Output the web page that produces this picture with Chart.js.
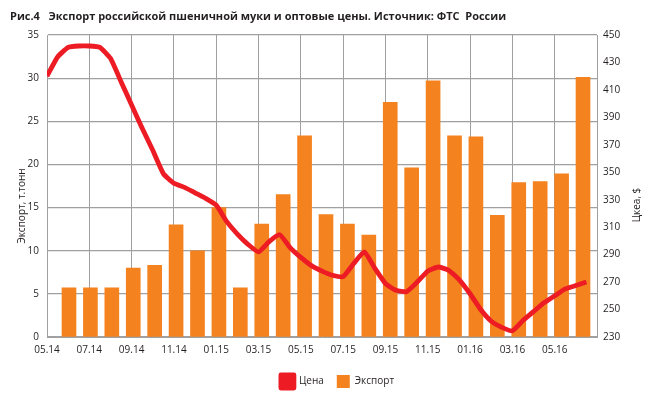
<!DOCTYPE html>
<html>
<head>
<meta charset="utf-8">
<script src="https://cdn.jsdelivr.net/npm/chart.js@4.4.0/dist/chart.umd.min.js"></script>
<style>
  body { margin: 0; background: #fff; }
  #wrap { width: 649px; height: 398px; }
</style>
</head>
<body>
<div id="wrap"><canvas id="myChart" width="649" height="398"></canvas></div>
<script>
// x tick labels, every 2 months from 05.14
const monthTicks = ['05.14', '07.14', '09.14', '11.14', '01.15', '03.15', '05.15', '07.15', '09.15', '11.15', '01.16', '03.16', '05.16'];

// export, thousand tonnes, monthly 05.14 .. 05.16
const exportMonths = ['05.14', '06.14', '07.14', '08.14', '09.14', '10.14', '11.14', '12.14', '01.15', '02.15', '03.15', '04.15',
  '05.15', '06.15', '07.15', '08.15', '09.15', '10.15', '11.15', '12.15', '01.16', '02.16', '03.16', '04.16', '05.16'];
const exportVals = [5.7, 5.7, 5.7, 8.0, 8.3, 13.0, 10.0, 15.0, 5.7, 13.1, 16.5, 23.3, 14.2, 13.1, 11.8, 27.2, 19.6, 29.7,
  23.3, 23.2, 14.1, 17.9, 18.0, 18.9, 30.1];

// wholesale price, $, read every half month starting 05.14
const priceVals = [420, 434, 441, 442, 442, 441, 433, 416, 399, 382, 366, 349, 342, 339, 335, 331, 326, 314, 305, 297.5,
  292, 299.5, 304.5, 295, 288, 282, 278, 275, 274, 283.5, 292, 280, 269, 264, 263, 270, 278, 281, 278.5, 271.5,
  261.5, 250, 241.5, 237, 234.5, 242, 248.5, 255, 260, 265, 267.5, 270];

const txt = '#231f20';
const gridCol = '#a0a0a0';
const tickFont = { family: 'Open Sans', size: 10 };

// axis titles (both read bottom to top)
const axisTitles = {
  id: 'axisTitles',
  afterDraw(chart) {
    const ctx = chart.ctx;
    ctx.save();
    ctx.fillStyle = txt;
    ctx.font = '10px "Open Sans"';
    ctx.textAlign = 'center';
    ctx.textBaseline = 'middle';
    [['Экспорт, т.тонн', 22, 206], ['Цкеа, $', 637, 205]].forEach(([t, x, y]) => {
      ctx.save();
      ctx.translate(x, y);
      ctx.rotate(-Math.PI / 2);
      ctx.fillText(t, 0, 0);
      ctx.restore();
    });
    ctx.restore();
  }
};

// legend sits a bit right of centre in the original, title is indented
const nudge = {
  id: 'nudge',
  afterLayout(chart) {
    chart.legend.left += 13;
    chart.legend.right += 13;
    chart.titleBlock.left += 10;
  }
};

const ctx = document.getElementById('myChart').getContext('2d');
new Chart(ctx, {
  type: 'bar',
  data: {
    datasets: [{
      type: 'line',
      label: 'Цена',
      data: priceVals.map((v, i) => ({ x: i / 2, y: v })),
      borderColor: '#ed1c24',
      backgroundColor: '#ed1c24',
      borderWidth: 4.8,
      pointRadius: 0,
      tension: 0.15,
      borderJoinStyle: 'round',
      xAxisID: 'x',
      yAxisID: 'y1'
    }, {
      label: 'Экспорт',
      data: exportVals.map((v, i) => ({ x: i, y: v })),
      backgroundColor: '#f4821f',
      barThickness: 14,
      xAxisID: 'x2',
      yAxisID: 'y'
    }]
  },
  options: {
    responsive: false,
    animation: false,
    layout: { padding: 0 },
    plugins: {
      title: {
        display: true,
        text: 'Рис.4   Экспорт российской пшеничной муки и оптовые цены. Источник: ФТС  России',
        align: 'start',
        color: txt,
        font: { family: 'Open Sans', size: 11, weight: 'bold' },
        padding: { top: 10, bottom: 11.8 }
      },
      legend: {
        position: 'bottom',
        labels: {
          boxWidth: 13,
          boxHeight: 13,
          padding: 13,
          color: txt,
          font: { family: 'Open Sans', size: 10 }
        }
      },
      tooltip: { enabled: false }
    },
    scales: {
      x: {
        type: 'linear',
        position: 'bottom',
        min: 0,
        max: 26,
        offset: false,
        afterFit: (s) => { s.height = 25; },
        grid: { color: gridCol, lineWidth: 1, drawTicks: false, offset: false },
        border: { color: gridCol },
        ticks: {
          stepSize: 2,
          autoSkip: false,
          maxRotation: 0,
          padding: 7,
          color: txt,
          font: tickFont,
          callback: (v) => monthTicks[v / 2] || ''
        }
      },
      x2: {
        type: 'linear',
        display: false,
        min: -0.7,
        max: 24.98,
        offset: false,
        grid: { offset: false }
      },
      y: {
        position: 'left',
        min: 0,
        max: 35,
        afterFit: (s) => { s.width = 47; },
        grid: { color: gridCol, lineWidth: 1.2, drawTicks: false },
        border: { color: gridCol },
        ticks: { stepSize: 5, padding: 8, color: txt, font: tickFont }
      },
      y1: {
        position: 'right',
        min: 230,
        max: 450,
        afterFit: (s) => { s.width = 52; },
        grid: { drawOnChartArea: false, drawTicks: false },
        border: { color: gridCol },
        ticks: { stepSize: 20, padding: 6, color: txt, font: tickFont }
      }
    }
  },
  plugins: [axisTitles, nudge]
});
</script>
</body>
</html>
